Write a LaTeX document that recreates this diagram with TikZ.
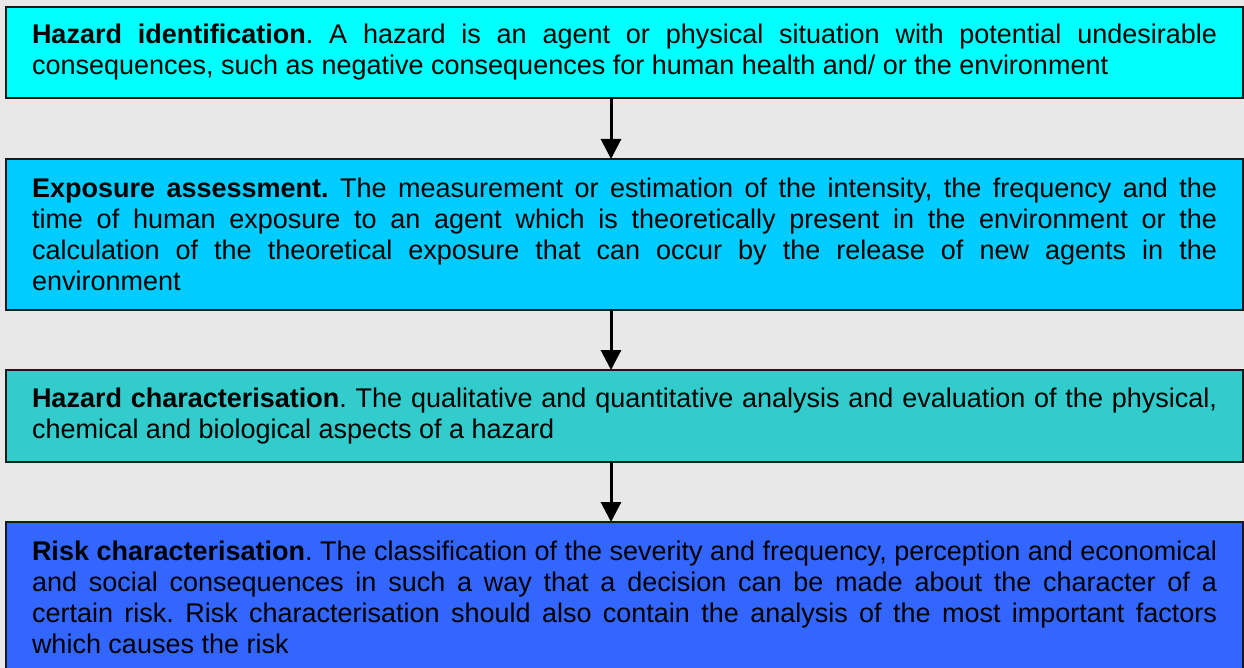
\documentclass[tikz,border=0pt]{standalone}
\usepackage{fontspec}
\setmainfont{Liberation Sans}
\usetikzlibrary{positioning,arrows.meta}
\definecolor{bggray}{HTML}{E8E8E8}
\definecolor{stepone}{HTML}{00FFFF}
\definecolor{steptwo}{HTML}{00CCFF}
\definecolor{stepthree}{HTML}{33CCCC}
\definecolor{stepfour}{HTML}{3366FF}

\begin{document}
\frenchspacing
\begin{tikzpicture}[x=1pt,y=1pt,
    stage/.style ={draw=black!90, line width=2pt, anchor=north west, outer sep=0pt,
      text width=1185pt, inner xsep=26pt, align=justify,
      font=\fontsize{27}{31}\selectfont},
    flow/.style ={line width=3pt, -{Triangle[width=20pt,length=20pt]}},
    node distance=60pt]
   \fill[bggray] (0,0) rectangle (1244,-668);
   \useasboundingbox (0,0) rectangle (1244,-668);
   \coordinate (ax) at (611,0);

   \node[stage,fill=stepone,minimum height=91pt] (hid) at (6,-7)
     {\textbf{Hazard identification}. A hazard is an agent or physical situation with potential undesirable\linebreak consequences, such as negative consequences for human health and/ or the environment};
   \node[stage,fill=steptwo,minimum height=151pt,below=61pt of hid.south west,anchor=north west] (exa)
     {\textbf{Exposure assessment.} The measurement or estimation of the intensity, the frequency and the\linebreak time of human exposure to an agent which is theoretically present in the environment or the\linebreak calculation of the theoretical exposure that can occur by the release of new agents in the\linebreak environment};
   \node[stage,fill=stepthree,minimum height=92pt,below=60pt of exa.south west,anchor=north west] (hch)
     {\textbf{Hazard characterisation}. The qualitative and quantitative analysis and evaluation of the physical,\linebreak chemical and biological aspects of a hazard};
   \node[stage,fill=stepfour,minimum height=151pt,below=60pt of hch.south west,anchor=north west] (rch)
     {\textbf{Risk characterisation}. The classification of the severity and frequency, perception and economical\linebreak and social consequences in such a way that a decision can be made about the character of a\linebreak certain risk. Risk characterisation should also contain the analysis of the most important factors\linebreak which causes the risk};

   \draw[flow] (hid.south -| ax) to (exa.north -| ax);
   \draw[flow] (exa.south -| ax) to (hch.north -| ax);
   \draw[flow] (hch.south -| ax) to (rch.north -| ax);
\end{tikzpicture}
\end{document}
